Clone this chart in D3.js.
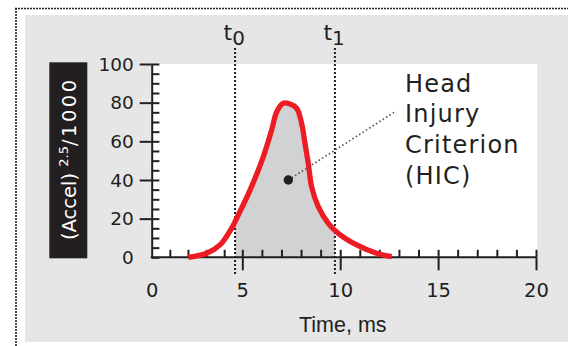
<!DOCTYPE html>
<html><head><meta charset="utf-8">
<script src="https://cdn.jsdelivr.net/npm/d3@7"></script>
<style>html,body{margin:0;padding:0;background:#fff;} svg{display:block}</style>
</head><body><svg id="c" width="568" height="346"></svg>
<script>
// ---- data ----
const timeMs = [2.02, 3.04, 3.77, 4.41, 4.69, 5.39, 6.07, 6.5, 6.76, 7.09, 7.44, 7.78, 8.03, 8.2, 8.37, 8.54, 8.88, 9.39, 9.9, 10.84, 11.86, 12.63];
const accel  = [0, 2.1, 6.4, 15, 20.2, 34.6, 52, 65.9, 75.3, 79.7, 79.3, 77.1, 69.3, 59, 48.6, 36.5, 26.2, 17.6, 12.4, 6.4, 2.1, 0.3];
const xTickValues = [0, 5, 10, 15, 20];
const yTickValues = [0, 20, 40, 60, 80, 100];
const xMinorTicks = d3.range(1, 21, 1);
const yMinorTicks = d3.range(0, 101, 5);
const windowTimes = [4.6, 9.73];
const windowLabels = ["0", "1"];
const hicPoint = [7.35, 40];
const leaderEnd = [12.8, 75.3];
const annotationLines = ["Head", "Injury", "Criterion", "(HIC)"];
const xTitle = "Time, ms";

// ---- layout ----
const svg = d3.select("#c");
const ink = "#231f20";
const x = d3.scaleLinear().domain([0, 5, 20]).range([151.7, 242.3, 536]);
const y = d3.scaleLinear().domain([0, 100]).range([257.3, 64]);

// outer dotted border
svg.append("line").attr("x1", 15).attr("x2", 568).attr("y1", 8.5).attr("y2", 8.5)
  .attr("stroke", "#222").attr("stroke-width", 1.6).attr("stroke-dasharray", "2,1");
svg.append("line").attr("x1", 16).attr("x2", 16).attr("y1", 8).attr("y2", 346)
  .attr("stroke", "#222").attr("stroke-width", 1.6).attr("stroke-dasharray", "2,1");

// gray panel
svg.append("rect").attr("x", 25).attr("y", 15).attr("width", 543).attr("height", 327).attr("fill", "#e6e6e7");
// white plot area
svg.append("rect").attr("x", x(0)).attr("y", y(100)).attr("width", x(20) - x(0) + 1.3).attr("height", y(0) - y(100)).attr("fill", "#fff");

// y title box
svg.append("rect").attr("x", 49.3).attr("y", 62.3).attr("width", 38).attr("height", 196).attr("fill", ink);
const yt = svg.append("text").attr("transform", "translate(75.5,240) rotate(-90)")
  .attr("fill", "#fff").attr("font-family", "DejaVu Sans").attr("font-size", 19.5);
yt.append("tspan").text("(Accel) ");
yt.append("tspan").attr("font-size", 13).attr("dy", -8).text("2.5");
yt.append("tspan").attr("dy", 8).attr("letter-spacing", 2.5).text("/1000");

// HIC fill between t0 and t1
const line = d3.line().x((d, i) => x(timeMs[i])).y((d, i) => y(accel[i])).curve(d3.curveCatmullRom.alpha(0.5));
const area = d3.area().x((d, i) => x(timeMs[i])).y0(y(0)).y1((d, i) => y(Math.max(0, accel[i]))).curve(d3.curveCatmullRom.alpha(0.5));
svg.append("clipPath").attr("id", "win").append("rect")
  .attr("x", x(windowTimes[0])).attr("y", 0).attr("width", x(windowTimes[1]) - x(windowTimes[0])).attr("height", y(0));
svg.append("path").datum(accel).attr("d", area).attr("fill", "#d1d2d4").attr("clip-path", "url(#win)");

// axes
const axisStyle = g => {
  g.selectAll("path.domain").attr("stroke", ink).attr("stroke-width", 2);
  g.selectAll(".tick line").attr("stroke", ink).attr("stroke-width", 2);
  g.selectAll("text").attr("fill", ink).attr("font-family", "DejaVu Sans").attr("font-size", 18.5);
};
// y minor (into plot)
svg.append("g").attr("transform", `translate(${x(0)},0)`)
  .call(d3.axisRight(y).tickValues(yMinorTicks).tickSize(7.7).tickSizeOuter(0).tickFormat(""))
  .call(axisStyle).call(g => g.select(".domain").remove());
// y major
svg.append("g").attr("transform", `translate(${x(0)},0)`)
  .call(d3.axisLeft(y).tickValues(yTickValues).tickSize(12).tickPadding(6).tickSizeOuter(0))
  .call(axisStyle)
  .call(g => g.selectAll(".tick").filter(d => d === 0).select("line").remove())
  .call(g => g.selectAll("text").attr("dy", "0.33em"));
// x minor (upward)
svg.append("g").attr("transform", `translate(0,${y(0)})`)
  .call(d3.axisTop(x).tickValues(xMinorTicks).tickSize(7.5).tickSizeOuter(0).tickFormat(""))
  .call(axisStyle).call(g => g.select(".domain").remove());
// x major
svg.append("g").attr("transform", `translate(0,${y(0)})`)
  .call(d3.axisBottom(x).tickValues(xTickValues).tickSize(13).tickSizeOuter(0).tickFormat(d3.format("d")))
  .call(axisStyle)
  .call(g => g.selectAll(".tick").filter(d => d === 0).select("line").remove())
  .call(g => g.selectAll("text").attr("y", 40).attr("dy", null).attr("font-size", 19.5))
  .call(g => g.select(".domain").attr("d", `M${x(0) - 1},0H${x(20)}`));

// x title
svg.append("text").attr("x", 342.8).attr("y", 331.7).attr("text-anchor", "middle")
  .attr("font-family", "Liberation Sans, Arial, sans-serif").attr("font-size", 21.5).attr("fill", ink).text(xTitle);

// window lines and labels
windowTimes.forEach((t, i) => {
  svg.append("line").attr("x1", x(t)).attr("x2", x(t)).attr("y1", 48).attr("y2", 275)
    .attr("stroke", ink).attr("stroke-width", 2).attr("stroke-dasharray", "2,2");
  const lbl = svg.append("text").attr("x", x(t) - 11.5).attr("y", 40).attr("fill", ink)
    .attr("font-family", "DejaVu Sans").attr("font-size", 22);
  lbl.append("tspan").text("t");
  lbl.append("tspan").attr("dy", 5).attr("font-size", 20).text(windowLabels[i]);
});

// curve
svg.append("path").datum(accel).attr("d", line).attr("fill", "none")
  .attr("stroke", "#ed1c24").attr("stroke-width", 5.3).attr("stroke-linejoin", "round");

// leader + dot
svg.append("line").attr("x1", x(hicPoint[0])).attr("y1", y(hicPoint[1]))
  .attr("x2", x(leaderEnd[0])).attr("y2", y(leaderEnd[1]))
  .attr("stroke", "#555").attr("stroke-width", 1.6).attr("stroke-dasharray", "1.6,2.4");
svg.append("circle").attr("cx", x(hicPoint[0])).attr("cy", y(hicPoint[1])).attr("r", 4.7).attr("fill", ink);

// annotation
const ann = svg.append("text").attr("font-family", "DejaVu Sans").attr("font-size", 24)
  .attr("fill", ink).attr("letter-spacing", 1.2);
annotationLines.forEach((s, i) => {
  ann.append("tspan").attr("x", 405).attr("y", 91.7 + i * 30.7).text(s);
});
</script></body></html>
